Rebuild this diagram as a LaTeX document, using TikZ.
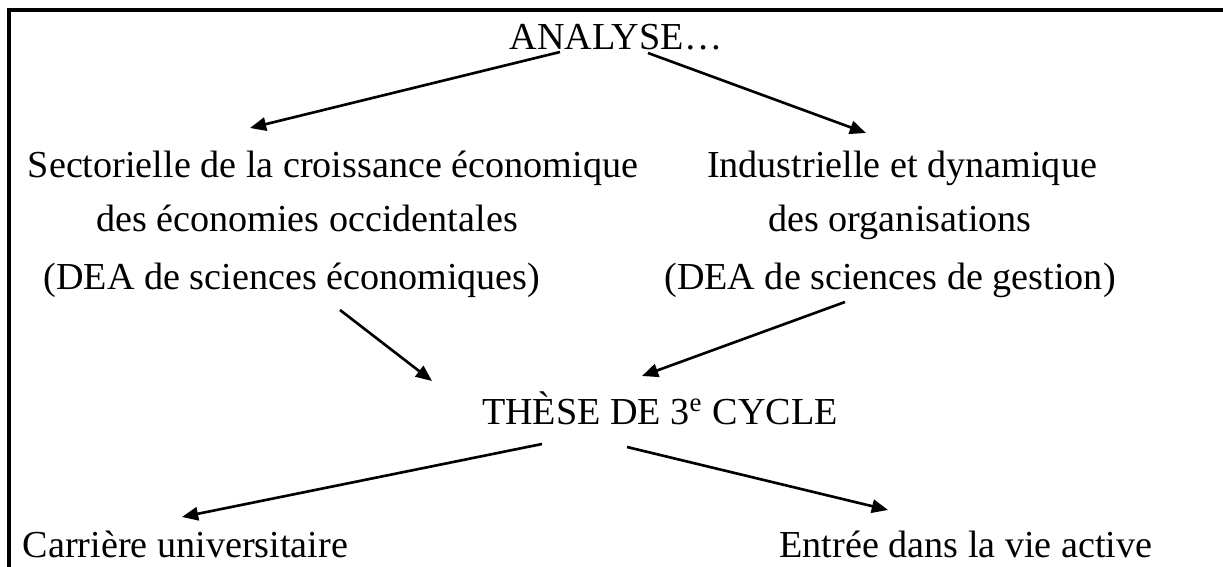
\documentclass[tikz,border=0pt]{standalone}
\usepackage{fontspec}
\setmainfont{Liberation Serif}
\usetikzlibrary{arrows.meta,calc}
\definecolor{traitnoir}{rgb}{0,0,0}

\begin{document}
\begin{tikzpicture}[x=0.01cm,y=-0.01cm,traitnoir,
	texte/.style={anchor=base,inner sep=0pt,font=\fontsize{10.85}{12}\selectfont},
	fleche/.style={line width=0.75pt,-{Triangle[length=4.6pt,width=3.8pt]}}]
			\useasboundingbox (0,0) rectangle (1223,567);
			\draw [line width=0.9pt] (9,567) -- (9,10) -- (1223,10);
			\node[texte] (analyse) at (616,50) {ANALYSE…};
			\node[texte] (sect) at (333,178) {Sectorielle de la croissance économique};
			\node[texte] (sectb) at (307,232) {des économies occidentales};
			\node[texte] (deaeco) at (292,290) {(DEA de sciences économiques)};
			\node[texte] (indus) at (902,178) {Industrielle et dynamique};
			\node[texte] (indusb) at (900,232) {des organisations};
			\node[texte] (deages) at (890,290) {(DEA de sciences de gestion)};
			\node[texte] (these) at (660,425) {THÈSE DE 3\textsuperscript{e} CYCLE};
			\node[texte,anchor=base west] (carriere) at (22,558) {Carrière universitaire};
			\node[texte,anchor=base east] (entree) at (1153,558) {Entrée dans la vie active};
			\draw [fleche] ($(analyse.base)+(-56,2)$) -- ($(sect.base)+(-83,-50)$);
			\draw [fleche] ($(analyse.base)+(32,3)$) -- ($(indus.base)+(-36,-45)$);
			\draw [fleche] ($(deaeco.base)+(48,20)$) -- ($(these.base)+(-228,-44)$);
			\draw [fleche] ($(deages.base)+(-45,12)$) -- ($(these.base)+(-18,-49)$);
			\draw [fleche] ($(these.base)+(-118,19)$) -- ($(carriere.base west)+(160,-41)$);
			\draw [fleche] ($(these.base)+(-33,22)$) -- ($(entree.base east)+(-265,-48)$);
		\end{tikzpicture}
\end{document}
